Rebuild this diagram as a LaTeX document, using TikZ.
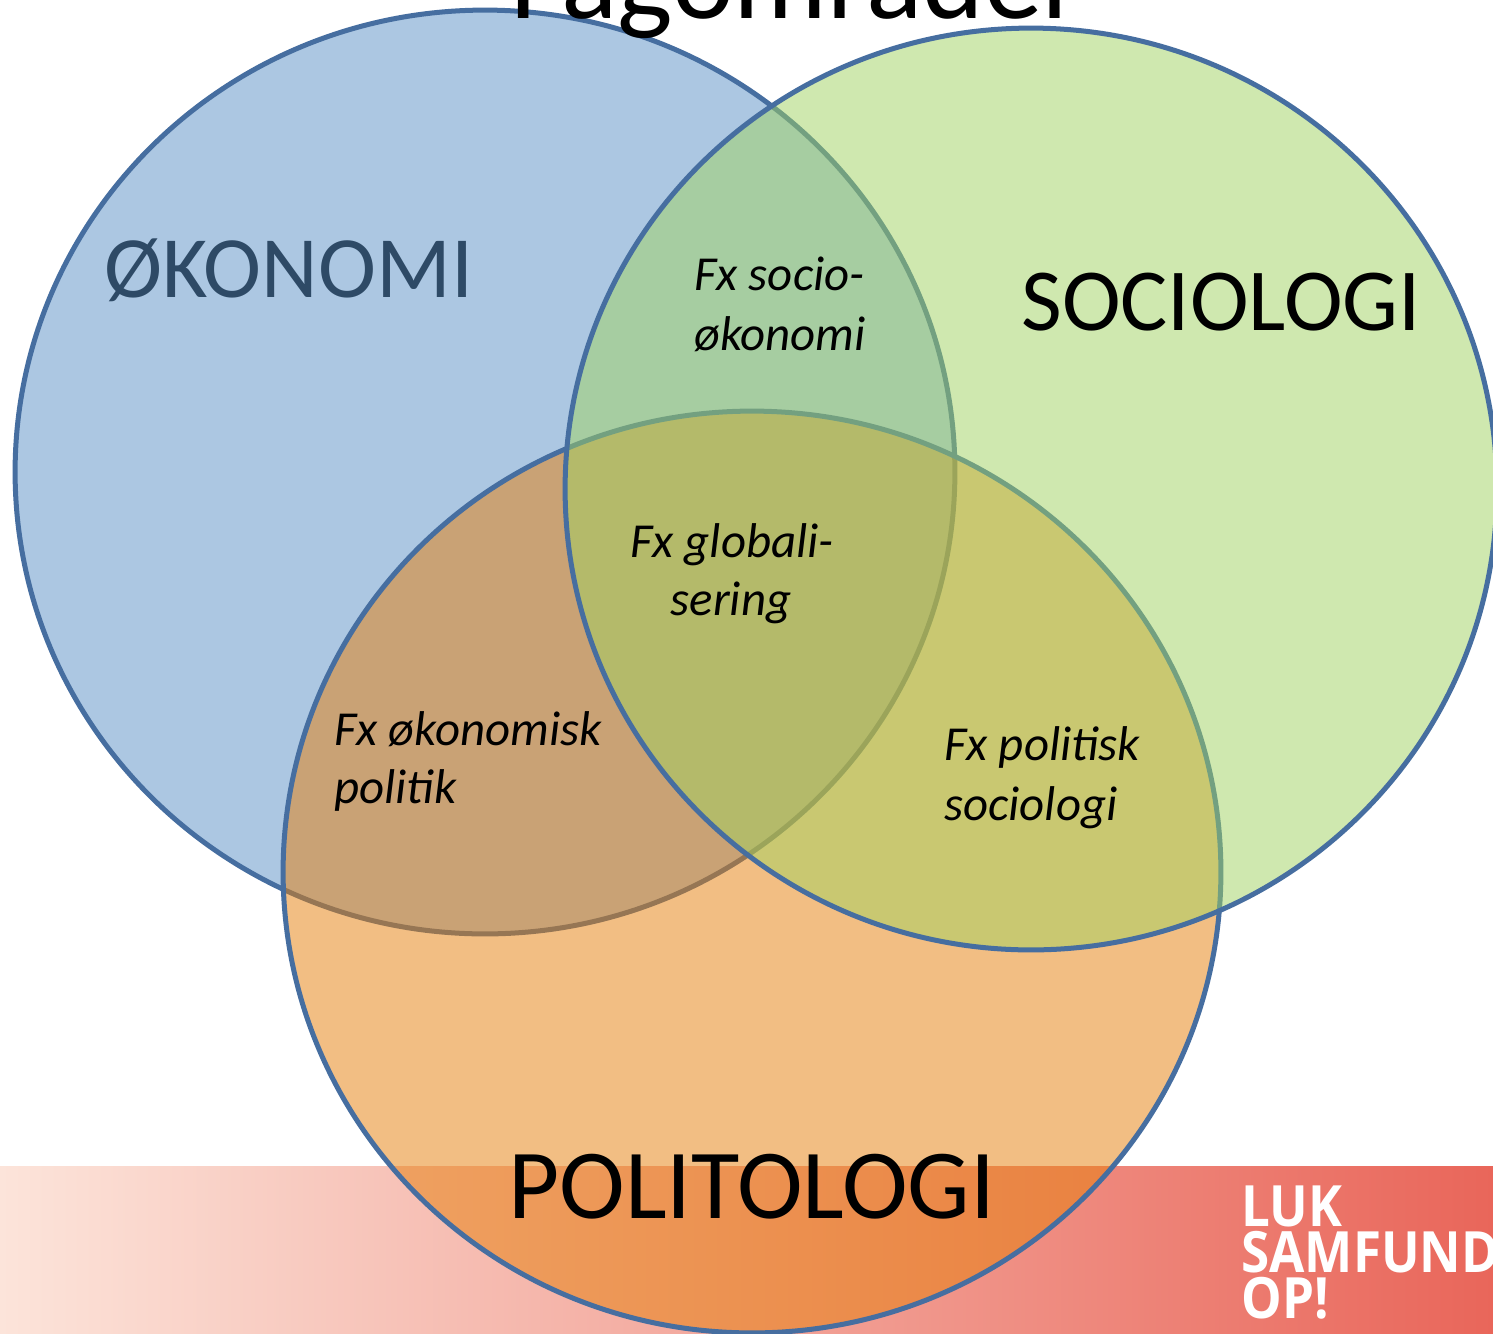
\documentclass[tikz,border=0pt]{standalone}
\usepackage{fontspec}
\setmainfont{Carlito}
\newfontfamily\logofont{Open Sans}
\begin{document}
\begin{tikzpicture}[x=0.02cm,y=-0.02cm,
  venn/.style={line width=2.85pt, draw=vennline, fill opacity=0.5, draw opacity=1},
  bigtxt/.style={inner sep=0, anchor=base west},
  smalltxt/.style={inner sep=0, anchor=base west, font=\fontsize{27.8}{32}\selectfont\itshape},
  logotxt/.style={inner sep=0, anchor=base west, text=white, font=\logofont\bfseries\fontsize{30}{31}\selectfont}]
\definecolor{vennline}{RGB}{70,110,160}
\definecolor{okfill}{RGB}{91,145,199}
\definecolor{sofill}{RGB}{161,211,97}
\definecolor{pofill}{RGB}{231,127,9}
\definecolor{oktext}{RGB}{46,74,102}
\definecolor{bandL}{RGB}{252,228,218}
\definecolor{bandM}{RGB}{246,165,145}
\definecolor{bandR}{RGB}{233,102,90}
\useasboundingbox (0,0) rectangle (1493,1333);
\clip (0,0) rectangle (1493,1333);
\fill[white] (0,0) rectangle (1493,1333);
% bottom band
\shade[left color=bandL, middle color=bandM, right color=bandR] (0,1166) rectangle (1493,1333);
% circles: economy, politics, sociology
\draw[venn, fill=okfill] (485,472) ellipse [x radius=9.40cm, y radius=9.24cm];
\draw[venn, fill=pofill] (752,872) ellipse [x radius=9.38cm, y radius=9.22cm];
\draw[venn, fill=sofill] (1031,489) ellipse [x radius=9.32cm, y radius=9.22cm];
% title
\node[inner sep=0, anchor=base, font=\fontsize{66.8}{72}\selectfont] (title) at (797,18) {Fagområder};
% main labels
\node[bigtxt, text=oktext, font=\fontsize{49.8}{56}\selectfont] (okon) at (104,297) {ØKONOMI};
\node[bigtxt, font=\fontsize{50.4}{58}\selectfont] (soc) at (1021,330) {SOCIOLOGI};
\node[bigtxt, font=\fontsize{56.4}{64}\selectfont] (pol) at (508,1218) {POLITOLOGI};
% intersection labels
\node[smalltxt] (so1) at (694,290) {Fx socio-};
\node[smalltxt] (so2) at (694,350) {økonomi};
\node[smalltxt, anchor=base] (gl1) at (732,557) {Fx globali-};
\node[smalltxt, anchor=base] (gl2) at (731,615) {sering};
\node[smalltxt] (op1) at (334,745) {Fx økonomisk};
\node[smalltxt] (op2) at (334,803) {politik};
\node[smalltxt] (ps1) at (944,760) {Fx politisk};
\node[smalltxt] (ps2) at (944,820) {sociologi};
% logo
\node[logotxt] (luk) at (1241,1226) {\scalebox{0.97}[1.08]{LUK}};
\node[logotxt] (samf) at (1241,1272) {\scalebox{0.97}[1.08]{SAMFUND}};
\node[logotxt] (op) at (1241,1318) {\scalebox{0.97}[1.08]{OP!}};
\end{tikzpicture}
\end{document}
